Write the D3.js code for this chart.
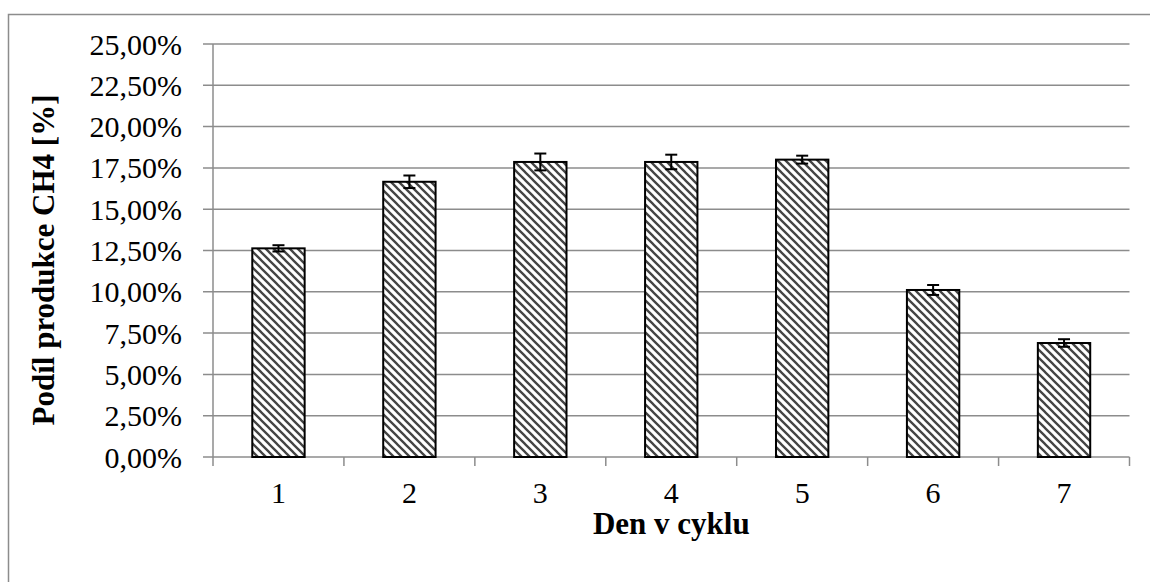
<!DOCTYPE html>
<html>
<head>
<meta charset="utf-8">
<script src="https://cdn.jsdelivr.net/npm/d3@7"></script>
<style>
  body { margin: 0; background: #fff; }
  svg { display: block; }
  svg text { font-family: 'Liberation Serif', 'DejaVu Serif', serif; }
</style>
</head>
<body>
<div id="chart"></div>
<script>
const days = ['1', '2', '3', '4', '5', '6', '7']
const shares = [12.63, 16.66, 17.86, 17.86, 18.0, 10.11, 6.9]
const errors = [0.19, 0.38, 0.51, 0.44, 0.24, 0.3, 0.23]
const yTicks = [0, 2.5, 5, 7.5, 10, 12.5, 15, 17.5, 20, 22.5, 25]

const width = 1150, height = 582
const margin = {top: 44, right: 20.5, bottom: 125, left: 213}
const innerW = width - margin.left - margin.right
const innerH = height - margin.top - margin.bottom

const svg = d3.select('#chart').append('svg')
    .attr('width', width)
    .attr('height', height)

// hatch pattern (wide downward diagonal)
const pat = svg.append('defs').append('pattern')
    .attr('id', 'hatch')
    .attr('patternUnits', 'userSpaceOnUse')
    .attr('width', 8)
    .attr('height', 8)
pat.append('rect').attr('width', 8).attr('height', 8).attr('fill', '#fff')
pat.append('path')
    .attr('d', 'M-2,-2 L10,10 M-2,6 L2,10 M6,-2 L10,2')
    .attr('stroke', '#444')
    .attr('stroke-width', 2.3)

// outer frame
svg.append('rect')
    .attr('x', 8.5).attr('y', 14.5)
    .attr('width', width).attr('height', height)
    .attr('fill', 'none')
    .attr('stroke', '#8c8c8c')
    .attr('stroke-width', 1.5)

const g = svg.append('g').attr('transform', `translate(${margin.left},${margin.top})`)

const x = d3.scaleBand().domain(days).range([0, innerW]).paddingInner(0.6).paddingOuter(0.3)
const y = d3.scaleLinear().domain([0, 25]).range([innerH, 0])
const fmt = v => d3.format('.2f')(v).replace('.', ',') + '%'

// gridlines
g.append('g').selectAll('line').data(yTicks).join('line')
    .attr('x1', -10).attr('x2', innerW)
    .attr('y1', d => y(d)).attr('y2', d => y(d))
    .attr('stroke', '#8c8c8c')
    .attr('stroke-width', 1.5)

// y axis line
g.append('line')
    .attr('x1', 0).attr('x2', 0).attr('y1', 0).attr('y2', innerH)
    .attr('stroke', '#8c8c8c').attr('stroke-width', 1.5)

// y labels
g.append('g').selectAll('text').data(yTicks).join('text')
    .attr('x', -31)
    .attr('y', d => y(d))
    .attr('dy', '0.35em')
    .attr('text-anchor', 'end')
    .attr('font-size', '30px')
    .text(fmt)

// x ticks at category boundaries
const bounds = d3.range(days.length + 1).map(i => i * innerW / days.length)
g.append('g').selectAll('line').data(bounds).join('line')
    .attr('x1', d => d).attr('x2', d => d)
    .attr('y1', innerH).attr('y2', innerH + 9)
    .attr('stroke', '#8c8c8c').attr('stroke-width', 1.5)

// x labels
g.append('g').selectAll('text').data(days).join('text')
    .attr('x', d => x(d) + x.bandwidth() / 2)
    .attr('y', innerH + 46)
    .attr('text-anchor', 'middle')
    .attr('font-size', '30px')
    .text(d => d)

// bars
g.append('g').selectAll('rect').data(days).join('rect')
    .attr('x', d => x(d))
    .attr('y', (d, i) => y(shares[i]))
    .attr('width', x.bandwidth())
    .attr('height', (d, i) => innerH - y(shares[i]))
    .attr('fill', 'url(#hatch)')
    .attr('stroke', '#000')
    .attr('stroke-width', 2)

// error bars
const eb = g.append('g').attr('stroke', '#000').attr('stroke-width', 2)
days.forEach((d, i) => {
    const cx = x(d) + x.bandwidth() / 2
    const hi = y(shares[i] + errors[i]), lo = y(shares[i] - errors[i])
    eb.append('line').attr('x1', cx).attr('x2', cx).attr('y1', hi).attr('y2', lo)
    eb.append('line').attr('x1', cx - 6).attr('x2', cx + 6).attr('y1', hi).attr('y2', hi)
    eb.append('line').attr('x1', cx - 6).attr('x2', cx + 6).attr('y1', lo).attr('y2', lo)
})

// axis titles
g.append('text')
    .attr('x', innerW / 2)
    .attr('y', innerH + 77)
    .attr('text-anchor', 'middle')
    .attr('font-size', '31px')
    .attr('font-weight', 'bold')
    .text('Den v cyklu')

g.append('text')
    .attr('transform', `translate(${54 - margin.left},${260 - margin.top}) rotate(-90)`)
    .attr('text-anchor', 'middle')
    .attr('font-size', '31px')
    .attr('font-weight', 'bold')
    .text('Podíl produkce CH4 [%]')
</script>
</body>
</html>
